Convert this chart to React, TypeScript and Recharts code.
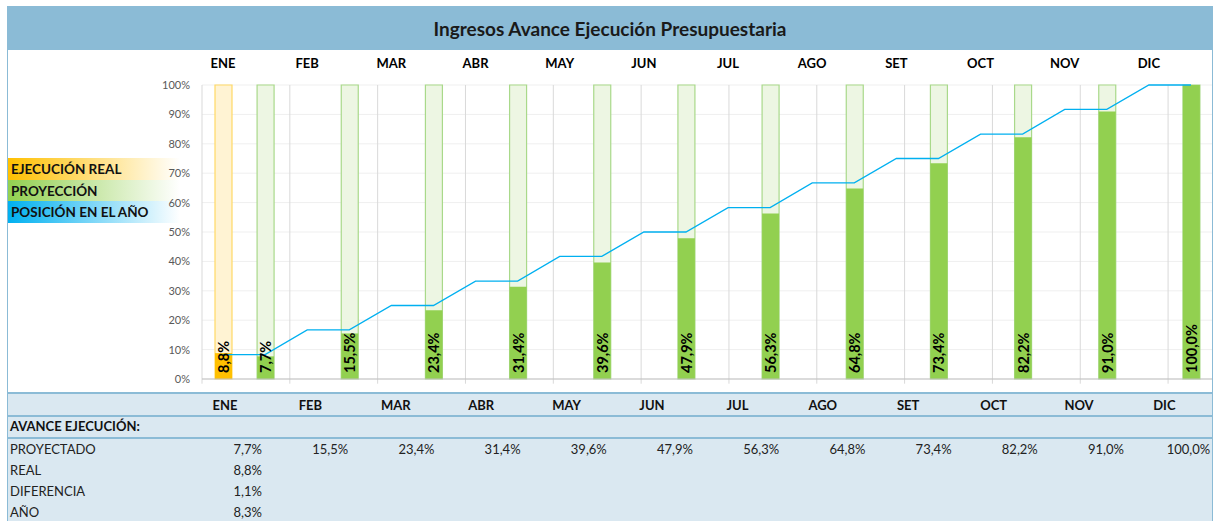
import React from "react";
import {
  ComposedChart,
  Bar,
  Line,
  XAxis,
  YAxis,
  CartesianGrid,
  Cell,
  LabelList,
  ReferenceLine,
} from "recharts";

const months = ["ENE", "FEB", "MAR", "ABR", "MAY", "JUN", "JUL", "AGO", "SET", "OCT", "NOV", "DIC"];
const proyectado = [7.7, 15.5, 23.4, 31.4, 39.6, 47.9, 56.3, 64.8, 73.4, 82.2, 91.0, 100.0];
const real: (number | null)[] = [8.8, null, null, null, null, null, null, null, null, null, null, null];
const diferencia: (number | null)[] = [1.1, null, null, null, null, null, null, null, null, null, null, null];
const anio: (number | null)[] = [8.3, null, null, null, null, null, null, null, null, null, null, null];
const posicionAnio = [8.3, 16.7, 25.0, 33.3, 41.7, 50.0, 58.3, 66.7, 75.0, 83.3, 91.7, 100.0];
const yTicks = [0, 10, 20, 30, 40, 50, 60, 70, 80, 90, 100];
const monthEdges = [0, 2, 4, 6, 8, 10, 12, 14, 16, 18, 20, 22, 24];

const FONT = "Lato, 'Liberation Sans', sans-serif";
const BLUE = "#8BBBD6";

// two slots per month: first for real execution, second for projection
const slots = months.flatMap((m, i) => [
  { key: m + "-r", month: m, kind: "real", fg: real[i], bg: real[i] != null ? 100 : null, pos: posicionAnio[i] },
  { key: m + "-p", month: m, kind: "proj", fg: proyectado[i], bg: 100, pos: posicionAnio[i] },
]);

const pct = (v: number | null) => (v == null ? "" : v.toFixed(1).replace(".", ",") + "%");

const RotatedLabel = (props: any) => {
  const { x, y, width, height, value } = props;
  if (value == null) return null;
  const cx = x + width / 2;
  const by = y + height - 6;
  return (
    <text
      x={cx}
      y={by}
      transform={`rotate(-90 ${cx} ${by})`}
      textAnchor="start"
      dominantBaseline="central"
      fontFamily={FONT}
      fontWeight="bold"
      fontSize={14.5}
      fill="#000"
    >
      {pct(value)}
    </text>
  );
};

const legendRows = [
  { label: "EJECUCIÓN REAL", color: "#FFC000" },
  { label: "PROYECCIÓN", color: "#92D050" },
  { label: "POSICIÓN EN EL AÑO", color: "#00B0F0" },
];

const tableRows = [
  { label: "PROYECTADO", values: proyectado },
  { label: "REAL", values: real },
  { label: "DIFERENCIA", values: diferencia },
  { label: "AÑO", values: anio },
];

export default function App() {
  return (
    <div
      style={{
        position: "fixed",
        left: 0,
        top: 0,
        width: 1217,
        height: 521,
        background: "#fff",
        fontFamily: FONT,
        overflow: "hidden",
      }}
    >
      {/* frame */}
      <div
        style={{
          position: "absolute",
          left: 7,
          top: 6,
          width: 1204,
          height: 530,
          borderLeft: `1px solid ${BLUE}`,
          borderRight: `1px solid ${BLUE}`,
        }}
      />
      <div
        style={{
          position: "absolute",
          left: 7,
          top: 6,
          width: 1206,
          height: 44,
          background: BLUE,
          display: "flex",
          alignItems: "center",
          justifyContent: "center",
          fontWeight: "bold",
          fontSize: 19,
          color: "#1a1a1a",
        }}
      >
        Ingresos Avance Ejecución Presupuestaria
      </div>

      {/* legend, under the chart so the tick labels stay visible */}
      {legendRows.map((r, i) => (
        <div
          key={r.label}
          style={{
            position: "absolute",
            left: 8,
            top: 158 + i * 21.5,
            width: 172,
            height: 21.5,
            background: `linear-gradient(to right, ${r.color}, #ffffff)`,
            fontWeight: "bold",
            fontSize: 13.5,
            lineHeight: "23px",
            paddingLeft: 3,
            boxSizing: "border-box",
            color: "#111",
          }}
        >
          {r.label}
        </div>
      ))}

      <div style={{ position: "absolute", left: 0, top: 50 }}>
        <ComposedChart
          width={1217}
          height={343}
          data={slots}
          margin={{ top: 5, right: 5, left: 0, bottom: 14 }}
        >
          <CartesianGrid vertical={false} stroke="#efefef" />
          <XAxis
            xAxisId="fg"
            dataKey="key"
            orientation="top"
            height={30}
            axisLine={false}
            tickLine={false}
            tickSize={0}
            tickMargin={17}
            interval={0}
            tickFormatter={(v: string) => (v.endsWith("-r") ? v.slice(0, 3) : "")}
            tick={{ fontFamily: FONT, fontWeight: "bold", fontSize: 13, fill: "#000" }}
          />
          <XAxis xAxisId="bg" dataKey="key" hide />
          <XAxis xAxisId="grid" type="number" domain={[0, 24]} hide />
          <YAxis
            domain={[0, 100]}
            ticks={yTicks}
            width={202}
            axisLine={false}
            tickLine={false}
            tickSize={0}
            tickMargin={12}
            tickFormatter={(v: number) => v + "%"}
            tick={{ fontFamily: FONT, fontSize: 11, fill: "#595959" }}
          />
          {monthEdges.map((e) => (
            <ReferenceLine
              key={e}
              xAxisId="grid"
              ifOverflow="visible"
              segment={[
                { x: e, y: -1.6 },
                { x: e, y: 100 },
              ]}
              stroke="#d9d9d9"
            />
          ))}
          <ReferenceLine xAxisId="grid" y={0} stroke="#bfbfbf" />
          <Bar xAxisId="bg" dataKey="bg" barSize={17} isAnimationActive={false}>
            {slots.map((s) => (
              <Cell
                key={s.key}
                fill={s.kind === "real" ? "#FFF3D3" : "#EDF6E3"}
                stroke={s.kind === "real" ? "#FFD966" : "#A9D98A"}
                strokeWidth={1.2}
              />
            ))}
          </Bar>
          <Bar xAxisId="fg" dataKey="fg" barSize={17} isAnimationActive={false}>
            {slots.map((s) => (
              <Cell key={s.key} fill={s.kind === "real" ? "#FFC000" : "#92D050"} />
            ))}
            <LabelList dataKey="fg" content={RotatedLabel} />
          </Bar>
          <Line
            xAxisId="fg"
            dataKey="pos"
            type="linear"
            stroke="#00B0F0"
            strokeWidth={1.3}
            dot={false}
            isAnimationActive={false}
          />
        </ComposedChart>
      </div>

      {/* table */}
      <div
        style={{
          position: "absolute",
          left: 8,
          top: 392,
          width: 1204,
          height: 140,
          background: "#DAE8F1",
          borderTop: `2px solid ${BLUE}`,
        }}
      />
      <div style={{ position: "absolute", left: 8, top: 415, width: 1204, height: 2, background: BLUE }} />
      <div style={{ position: "absolute", left: 8, top: 437, width: 1204, height: 2, background: BLUE }} />
      {months.map((m, i) => (
        <div
          key={m}
          style={{
            position: "absolute",
            left: 225 + 85.4 * i - 30,
            width: 60,
            top: 397,
            textAlign: "center",
            fontWeight: "bold",
            fontSize: 13,
            color: "#111",
          }}
        >
          {m}
        </div>
      ))}
      <div style={{ position: "absolute", left: 10, top: 418, fontWeight: "bold", fontSize: 13, color: "#111" }}>
        AVANCE EJECUCIÓN:
      </div>
      {tableRows.map((row, r) => (
        <React.Fragment key={row.label}>
          <div style={{ position: "absolute", left: 10, top: 441 + r * 21, fontSize: 13, color: "#222" }}>
            {row.label}
          </div>
          {row.values.map((v, i) =>
            v == null ? null : (
              <div
                key={i}
                style={{
                  position: "absolute",
                  left: 262 + 86.2 * i - 80,
                  width: 80,
                  top: 441 + r * 21,
                  textAlign: "right",
                  fontSize: 13,
                  color: "#222",
                }}
              >
                {pct(v)}
              </div>
            )
          )}
        </React.Fragment>
      ))}
    </div>
  );
}
